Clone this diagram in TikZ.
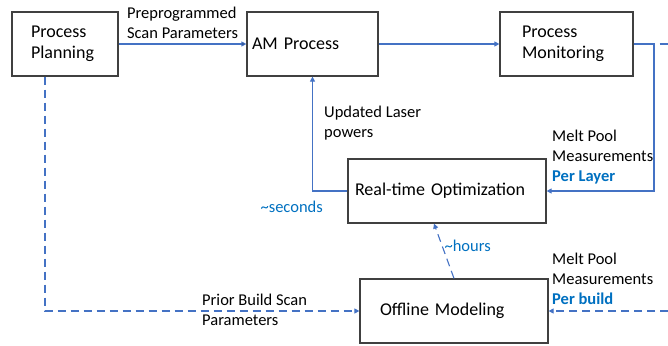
\documentclass[tikz,border=0pt]{standalone}
\usepackage{fontspec}
\setmainfont{Carlito}
\usetikzlibrary{arrows.meta}
\definecolor{linkblue}{HTML}{4472C4}
\definecolor{tagblue}{HTML}{0070C0}

\begin{document}
\begin{tikzpicture}[x=1pt, y=-1pt,
 box/.style={draw=black!75, line width=1.2pt, align=left, minimum height=64pt,
  font=\fontsize{18}{21}\selectfont},
 link/.style={draw=linkblue, line width=1.1pt, -{Triangle[length=5pt,width=5pt]}},
 dlink/.style={link, dash pattern=on 8pt off 5pt},
 note/.style={align=left, inner sep=2pt, font=\fontsize{16.5}{20}\selectfont},
 tag/.style={note, text=tagblue}]
 \useasboundingbox (0,0) rectangle (668,345);

 \node [box, inner xsep=19pt, text width=68pt] (plan) at (65,44) {Process\\Planning};
 \node [box, inner xsep=5pt, text width=121pt] (am) at (312.5,44) {AM Process};
 \node [box, inner xsep=22pt, text width=89pt] (mon) at (566.5,44) {Process\\Monitoring};
 \node [box, inner xsep=7pt, text width=184pt] (rto) at (447,191) {Real-time Optimization};
 \node [box, inner xsep=20pt, text width=148pt] (off) at (454,311) {Offline Modeling};

 \coordinate (mr) at (654,44);
 \coordinate (me) at (668,44);
 \coordinate (be) at (668,311);

 \node [note, anchor=west] (upd) at (322,123) {Updated Laser\\powers};
 \node [tag, anchor=east] (sec) at (325,207) {\textasciitilde seconds};
 \node [note, anchor=west] (mpl) at (550,157) {Melt Pool\\Measurements\\{\color{tagblue}\bfseries Per Layer}};
 \node [note, anchor=west] (mpb) at (550,279) {Melt Pool\\Measurements\\{\color{tagblue}\bfseries Per build}};
 \node [note, anchor=west] (prior) at (200,310) {Prior Build Scan\\Parameters};

 \draw [link] (plan) edge node [note, above=3pt] {Preprogrammed\\Scan Parameters} (am);
 \draw [link] (am) -- (mon);
 \draw [dlink, -] (mon) -- (me);
 \draw [link] (mon) -- (mr) |- (rto);
 \draw [link] (rto) -| (am);
 \draw [dlink] (be) -- (off);
 \draw [dlink] (off.north) -- ([xshift=-13pt]rto.south) node [tag, pos=0.6, right] {\textasciitilde hours};
 \draw [dlink] ([xshift=-20pt]plan.south) |- (off);

\end{tikzpicture}
\end{document}
